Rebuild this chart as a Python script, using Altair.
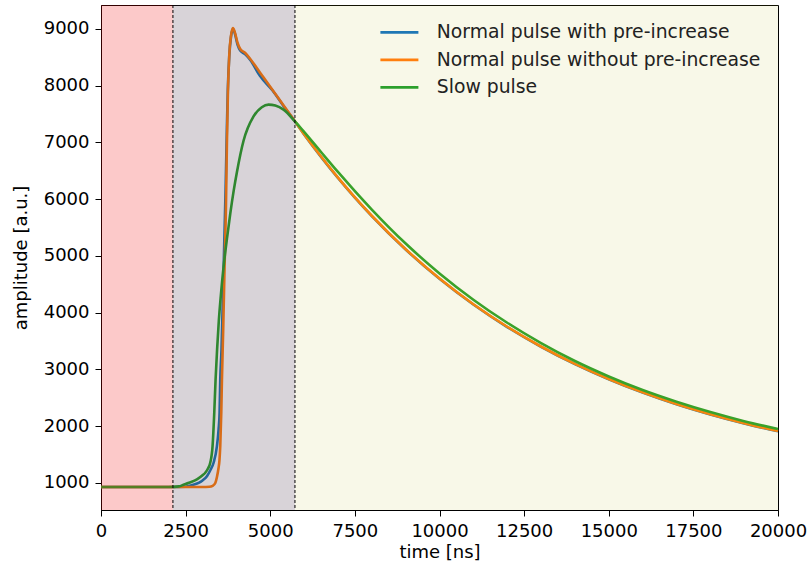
import altair as alt
import pandas as pd

series_names = ["Normal pulse with pre-increase", "Normal pulse without pre-increase", "Slow pulse"]
series_colors = ["#1f77b4", "#ff7f0e", "#2ca02c"]

decay_t = [6000, 6500, 7000, 7500, 8000, 9000, 10000, 11000, 12000, 13000,
           14000, 15000, 16000, 17000, 18000, 19000, 20000]

t_blue = [0, 1000, 2000, 2500, 2700, 2900, 3000, 3130, 3230, 3326, 3425, 3474, 3503,
          3523, 3560, 3600, 3640, 3680, 3715, 3745, 3790, 3840, 3895, 3950, 4035, 4113,
          4261, 4409, 4700, 5068, 5400, 5729] + decay_t
v_blue = [925, 925, 925, 930, 960, 1000, 1040, 1116, 1220, 1352, 1645, 1940, 2234,
          2820, 3350, 4250, 5200, 6150, 7150, 7900, 8530, 8860, 9000, 8930, 8720, 8620,
          8555, 8455, 8170, 7915, 7635, 7368,
          7142, 6746, 6374, 6027, 5702, 5112, 4595, 4142, 3745, 3397, 3091, 2824, 2589,
          2383, 2203, 2044, 1906]

t_orange = [0, 1000, 2000, 3000, 3200, 3300, 3380, 3425, 3470, 3500, 3523, 3553, 3573,
            3610, 3650, 3690, 3720, 3750, 3790, 3840, 3898, 3950, 4035, 4113, 4261, 4409,
            4700, 5068, 5400, 5729] + decay_t
v_orange = [925, 925, 925, 925, 928, 945, 1000, 1100, 1250, 1400, 1645, 2234, 2822,
            3700, 4800, 5816, 7000, 7900, 8550, 8880, 9018, 8950, 8753, 8648, 8577, 8471,
            8230, 7925, 7646, 7372,
            7146, 6751, 6379, 6032, 5707, 5117, 4600, 4147, 3750, 3402, 3096, 2829, 2594,
            2388, 2208, 2049, 1911]

t_green = [0, 1000, 2000, 2300, 2440, 2600, 2834, 3000, 3080, 3160, 3227, 3296, 3346,
           3385, 3430, 3480, 3540, 3620, 3720, 3820, 3920, 4016, 4211, 4506, 4750, 4950,
           5150, 5393, 5729] + decay_t
v_green = [925, 925, 925, 935, 965, 1000, 1058, 1130, 1176, 1250, 1352, 1645, 2234,
           2820, 3350, 3850, 4300, 4800, 5300, 5750, 6150, 6480, 7030, 7460, 7620, 7666,
           7650, 7578, 7372,
           7186, 6831, 6479, 6142, 5817, 5217, 4690, 4227, 3820, 3462, 3146, 2874, 2634,
           2428, 2246, 2085, 1946]

span_start = [0, 2125, 5730]
span_end = [2125, 5730, 20000]
span_color = ["#f00000", "#3c233c", "#bcbd22"]
span_opacity = [0.21, 0.2, 0.1]
dash_x = [2125, 5730]

x_ticks = [0, 2500, 5000, 7500, 10000, 12500, 15000, 17500, 20000]
y_ticks = [1000, 2000, 3000, 4000, 5000, 6000, 7000, 8000, 9000]

rows = []
for name, ts, vs in zip(series_names, [t_blue, t_orange, t_green], [v_blue, v_orange, v_green]):
    for t, v in zip(ts, vs):
        rows.append({"series": name, "time": t, "amp": v})
df = pd.DataFrame(rows)

spans = pd.DataFrame({"start": span_start, "end": span_end,
                      "color": span_color, "op": span_opacity})
dashes = pd.DataFrame({"x": dash_x})

FONT = "DejaVu Sans"
FS = 18

xscale = alt.Scale(domain=[0, 20000], nice=False, zero=False)
yscale = alt.Scale(domain=[519, 9423], nice=False, zero=False)

xenc = alt.X("time:Q", scale=xscale,
             axis=alt.Axis(values=x_ticks, title="time [ns]", format="d", titlePadding=3,
                           labelOverlap=False, labelFlush=False))
yenc = alt.Y("amp:Q", scale=yscale,
             axis=alt.Axis(values=y_ticks, title="amplitude [a.u.]", format="d", titlePadding=13,
                           labelOverlap=False, labelFlush=False))

base = alt.Chart(df).mark_line(strokeWidth=2.6, interpolate="monotone").encode(
    x=xenc,
    y=yenc,
    color=alt.Color("series:N",
                    scale=alt.Scale(domain=series_names, range=series_colors),
                    legend=alt.Legend(title=None, orient="none", legendX=289, legendY=18,
                                      symbolType="M-3.8,0L3.8,0", symbolSize=100,
                                      symbolStrokeWidth=2.6, labelFontSize=18.8,
                                      labelFont=FONT, labelOffset=28, rowPadding=7.5,
                                      padding=0, labelColor="#222222", labelLimit=0)),
)
lines = [base.transform_filter(alt.datum.series == n) for n in series_names]

rects = alt.Chart(spans).mark_rect().encode(
    x=alt.X("start:Q", scale=xscale),
    x2="end:Q",
    color=alt.Color("color:N", scale=None),
    opacity=alt.Opacity("op:Q", scale=None),
)

rules = alt.Chart(dashes).mark_rule(color="black", strokeWidth=1, strokeDash=[3, 2]).encode(
    x=alt.X("x:Q", scale=xscale)
)

chart = alt.layer(*lines, rects, rules).properties(
    width=677, height=505,
    autosize=alt.AutoSizeParams(type="none"),
    padding={"left": 101, "top": 5, "right": 32, "bottom": 59},
    background="white",
).configure_view(stroke="black", strokeWidth=1).configure_axis(
    grid=False, domainColor="black", tickColor="black", tickSize=6, labelPadding=6,
    labelFont=FONT, titleFont=FONT, labelFontSize=FS, titleFontSize=FS,
    labelColor="black", titleColor="black", titleFontWeight="normal", domainWidth=1,
)

chart.save("out.html", embed_options={"renderer": "svg", "actions": False})
